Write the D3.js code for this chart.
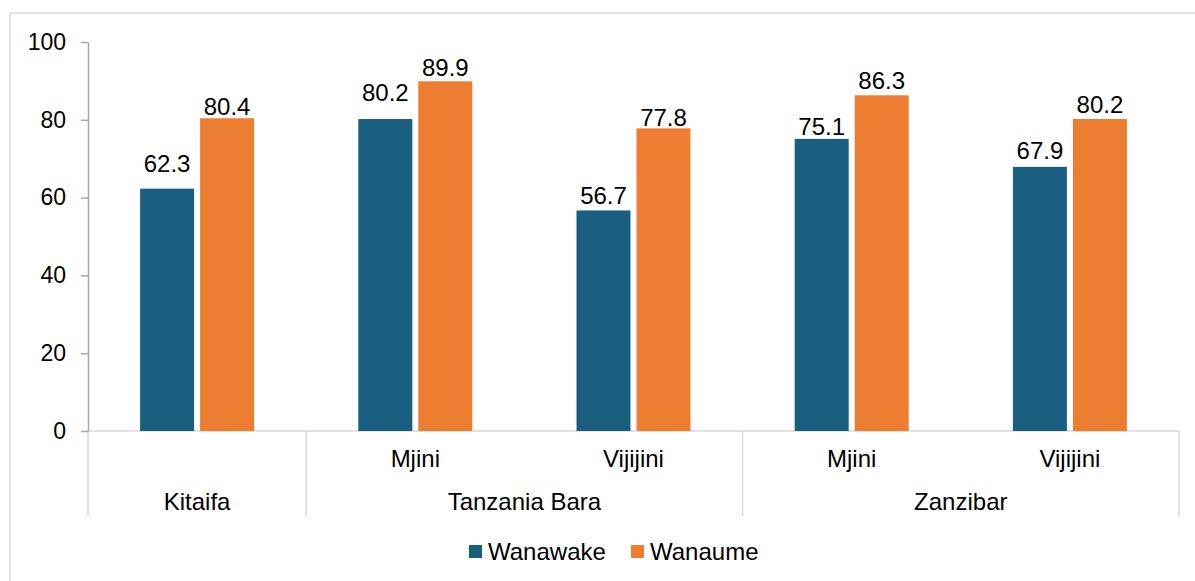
<!DOCTYPE html>
<meta charset="utf-8">
<style>

body {
  margin: 0;
  background: #fff;
}

text {
  font-family: "Liberation Sans", Arial, sans-serif;
  fill: #000;
}

.axis text {
  font-size: 23px;
}

.label {
  font-size: 24px;
  text-anchor: middle;
}

.cat {
  font-size: 24px;
  text-anchor: middle;
}

.legend text {
  font-size: 24px;
}

</style>
<svg width="1195" height="581"></svg>
<script src="https://d3js.org/d3.v7.min.js"></script>
<script>

// categories along the x axis (sub level + group level)
var subcats = ["", "Mjini", "Vijijini", "Mjini", "Vijijini"];
var groupNames = ["Kitaifa", "Tanzania Bara", "Zanzibar"];
var groupFirst = [0, 1, 3];
var groupLast = [0, 2, 4];

// series
var seriesNames = ["Wanawake", "Wanaume"];
var wanawake = [62.3, 80.2, 56.7, 75.1, 67.9];
var wanaume = [80.4, 89.9, 77.8, 86.3, 80.2];

var yTicks = [0, 20, 40, 60, 80, 100];

var colors = ["#1a5e80", "#ed7d31"];

// gap (px) between bar top and its value label, as placed in the original
var gapWanawake = [17, 18, 6, 4, 8];
var gapWanaume = [3, 5, 2, 6, 6];

var svg = d3.select("svg"),
    plotLeft = 88, plotRight = 1179, plotTop = 42, plotBottom = 431;

// outer frame (runs off the canvas on the right and bottom)
svg.append("rect")
    .attr("x", 10).attr("y", 13)
    .attr("width", 1200).attr("height", 600)
    .attr("fill", "none")
    .attr("stroke", "#d9d9d9")
    .attr("stroke-width", 1.5);

var x0 = d3.scaleBand()
    .domain(d3.range(subcats.length))
    .range([plotLeft, plotRight]);

var x1 = d3.scaleBand()
    .domain(seriesNames)
    .range([0, 114])
    .paddingInner(0.1);

var y = d3.scaleLinear()
    .domain([0, 100])
    .range([plotBottom, plotTop]);

var off = (x0.bandwidth() - 114) / 2;

// baseline + category separators
var g = svg.append("g");
g.append("line")
    .attr("x1", plotLeft).attr("x2", plotRight)
    .attr("y1", plotBottom).attr("y2", plotBottom)
    .attr("stroke", "#d9d9d9").attr("stroke-width", 1.5);

var seps = [plotLeft].concat(groupLast.map(function(i) { return x0(i) + x0.bandwidth(); }));
g.selectAll(".sep")
  .data(seps)
  .enter().append("line")
    .attr("class", "sep")
    .attr("x1", function(d) { return d; }).attr("x2", function(d) { return d; })
    .attr("y1", plotBottom).attr("y2", 516)
    .attr("stroke", "#d9d9d9").attr("stroke-width", 1.5);

// bars
var rows = subcats.map(function(s, i) {
  return [
    { i: i, key: seriesNames[0], value: wanawake[i], color: colors[0], gap: gapWanawake[i] },
    { i: i, key: seriesNames[1], value: wanaume[i], color: colors[1], gap: gapWanaume[i] }
  ];
});

var grp = svg.selectAll(".grp")
  .data(rows)
  .enter().append("g")
    .attr("class", "grp")
    .attr("transform", function(d, i) { return "translate(" + (x0(i) + off) + ",0)"; });

grp.selectAll("rect")
  .data(function(d) { return d; })
  .enter().append("rect")
    .attr("x", function(d) { return x1(d.key); })
    .attr("y", function(d) { return y(d.value); })
    .attr("width", x1.bandwidth())
    .attr("height", function(d) { return plotBottom - y(d.value); })
    .attr("fill", function(d) { return d.color; });

grp.selectAll(".label")
  .data(function(d) { return d; })
  .enter().append("text")
    .attr("class", "label")
    .attr("x", function(d) { return x1(d.key) + x1.bandwidth() / 2; })
    .attr("y", function(d) { return y(d.value) - d.gap; })
    .text(function(d) { return d.value.toFixed(1); });

// y axis
var yAxis = svg.append("g")
    .attr("class", "axis")
    .attr("transform", "translate(" + plotLeft + ",0)")
    .call(d3.axisLeft(y).tickValues(yTicks).tickSize(7).tickPadding(15).tickSizeOuter(0));
yAxis.select(".domain").attr("stroke", "#a6a6a6").attr("stroke-width", 1.5);
yAxis.selectAll(".tick line").attr("stroke", "#a6a6a6").attr("stroke-width", 1.5);
yAxis.selectAll("text").attr("fill", "#000");
yAxis.attr("font-family", null).attr("font-size", null);

// x category labels
svg.selectAll(".sub")
  .data(subcats)
  .enter().append("text")
    .attr("class", "cat sub")
    .attr("x", function(d, i) { return x0(i) + x0.bandwidth() / 2; })
    .attr("y", 459)
    .attr("dy", "0.35em")
    .text(function(d) { return d; });

svg.selectAll(".grpname")
  .data(groupNames)
  .enter().append("text")
    .attr("class", "cat grpname")
    .attr("x", function(d, k) { return (x0(groupFirst[k]) + x0(groupLast[k]) + x0.bandwidth()) / 2; })
    .attr("y", 502)
    .attr("dy", "0.35em")
    .text(function(d) { return d; });

// legend
var legend = svg.append("g").attr("class", "legend");
var lx = [469, 631];
var item = legend.selectAll("g")
  .data(seriesNames)
  .enter().append("g")
    .attr("transform", function(d, i) { return "translate(" + lx[i] + ",545)"; });
item.append("rect")
    .attr("width", 13).attr("height", 13)
    .attr("fill", function(d, i) { return colors[i]; });
item.append("text")
    .attr("x", 19).attr("y", 7)
    .attr("dy", "0.35em")
    .text(function(d) { return d; });

</script>
